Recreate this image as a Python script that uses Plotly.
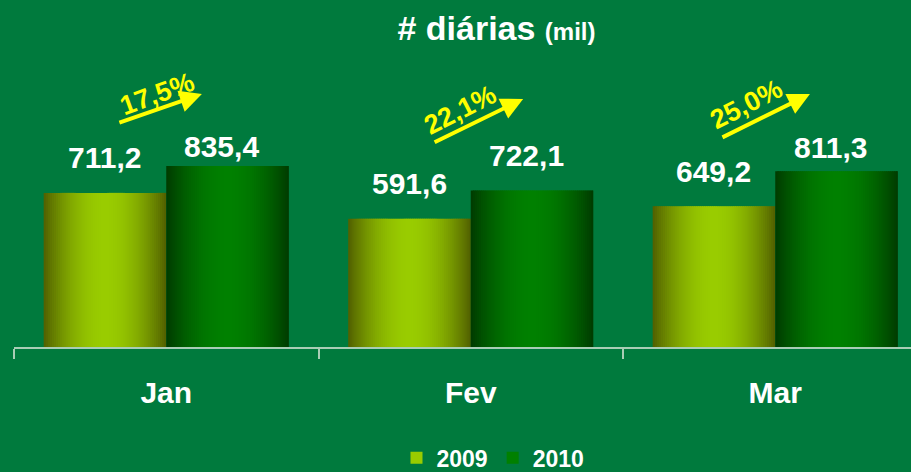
import plotly.graph_objects as go

# ---- data ----
categories = ["Jan", "Fev", "Mar"]
values_2009 = [711.2, 591.6, 649.2]
values_2010 = [835.4, 722.1, 811.3]
series_names = ["2009", "2010"]

# ---- style ----
BG = "#007A3D"
FONT = "Arial, Liberation Sans, sans-serif"
edge_cols = [(80, 94, 0), (0, 58, 0)]
center_cols = [(153, 204, 0), (0, 128, 0)]
label_lift = [[35, 35, 35], [20, 35, 24]]
label_xshift = [0, -6]
N = 60
bar_w = 0.4025

# arrow/label placement (category offset, paper y) per month
arrow_tip = [(0.117, 1.297), (0.172, 1.272), (0.114, 1.297)]
arrow_tail = [(-84, 29), (-90, 44), (-89, 44)]
pct_pos = [(-0.030, 1.297), (-0.035, 1.215), (-0.093, 1.246)]
pct_angle = [-20, -27, -27]


def fmt(v):
    return f"{v:.1f}".replace(".", ",")


def grad(c0, c1, t):
    import math
    f = math.sin(math.pi * t) ** 0.9
    return "rgb(%d,%d,%d)" % tuple(round(a + (b - a) * f) for a, b in zip(c0, c1))


fig = go.Figure()
for s, vals in enumerate([values_2009, values_2010]):
    base = -bar_w if s == 0 else 0.0
    sw = bar_w / N
    for k in range(N):
        t = (k + 0.5) / N
        col = grad(edge_cols[s], center_cols[s], t)
        fig.add_trace(go.Bar(
            x=categories, y=vals,
            width=sw * 1.8 if k < N - 1 else sw,
            offset=base + k * sw,
            marker=dict(color=col, line=dict(width=0)),
            name=series_names[s],
            legendgroup=series_names[s],
            showlegend=(k == N // 2),
            hoverinfo="skip",
        ))

annotations = []
for s, vals in enumerate([values_2009, values_2010]):
    for i, v in enumerate(vals):
        annotations.append(dict(
            x=i + (-bar_w / 2 if s == 0 else bar_w / 2), y=v, xref="x", yref="y",
            text="<b>" + fmt(v) + "</b>", showarrow=False,
            xanchor="center", yanchor="middle",
            yshift=label_lift[s][i], xshift=label_xshift[s],
            font=dict(family=FONT, size=30, color="white"),
        ))

for i, (a, b) in enumerate(zip(values_2009, values_2010)):
    g = (b / a - 1) * 100
    tx, ty = arrow_tip[i]
    ax, ay = arrow_tail[i]
    annotations.append(dict(
        x=i + tx, y=ty, xref="x", yref="paper", text="", showarrow=True,
        ax=ax, ay=ay, arrowhead=2, arrowsize=1.1, arrowwidth=4,
        arrowcolor="#FFFF00", standoff=0,
    ))
    px, py = pct_pos[i]
    annotations.append(dict(
        x=i + px, y=py, xref="x", yref="paper", text="<b>" + fmt(g) + "%</b>",
        showarrow=False, textangle=pct_angle[i],
        xanchor="center", yanchor="middle",
        font=dict(family=FONT, size=27, color="#FFFF00"),
    ))

fig.update_layout(
    width=911, height=472,
    margin=dict(l=14, r=0, t=152, b=125, autoexpand=False),
    paper_bgcolor=BG, plot_bgcolor=BG,
    barmode="overlay",
    showlegend=True,
    title=dict(
        text="<b># diárias <span style='font-size:24px'>(mil)</span></b>",
        x=0.545, xanchor="center", y=0.941, yanchor="middle",
        font=dict(family=FONT, size=34, color="white"),
    ),
    legend=dict(
        orientation="h", x=0.534, xanchor="center", y=-0.568, yanchor="middle",
        font=dict(family=FONT, size=23, color="white", weight="bold"),
        bgcolor="rgba(0,0,0,0)", itemclick=False, itemdoubleclick=False,
        borderwidth=0, tracegroupgap=0,
    ),
    xaxis=dict(
        type="category", range=[-0.5, -0.5 + 897 / 304.5],
        showline=True, linecolor="#A9CDB5", linewidth=2,
        ticks="outside", tickson="boundaries", ticklen=10, tickcolor="#A9CDB5", tickwidth=2,
        tickfont=dict(family=FONT, size=30, color="white", weight="bold"),
        ticklabelstandoff=18,
        showgrid=False, zeroline=False, fixedrange=True,
    ),
    yaxis=dict(range=[0, 900], visible=False, showgrid=False, zeroline=False, fixedrange=True),
    annotations=annotations,
)

fig.write_html(
    "out.html",
    config={"displayModeBar": False, "staticPlot": True},
    post_script="document.body.style.margin='0';document.body.style.overflow='hidden';"
                "document.body.style.background='" + BG + "';",
)
